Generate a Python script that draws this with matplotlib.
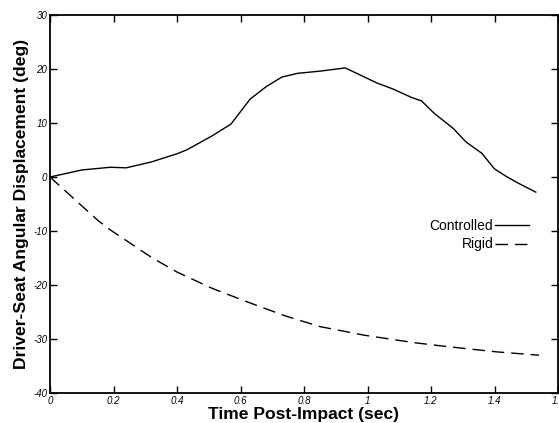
import matplotlib
matplotlib.use("Agg")
import matplotlib.pyplot as plt

# --- DATA ---
t_ctrl = [0.0, 0.10, 0.19, 0.24, 0.32, 0.40, 0.43, 0.51, 0.57, 0.63, 0.68, 0.73,
          0.78, 0.85, 0.93, 1.03, 1.08, 1.14, 1.17, 1.21, 1.27, 1.31, 1.36,
          1.40, 1.44, 1.48, 1.53]
ang_ctrl = [0.0, 1.3, 1.8, 1.7, 2.8, 4.3, 5.0, 7.6, 9.8, 14.4, 16.7, 18.5,
            19.2, 19.6, 20.2, 17.4, 16.3, 14.7, 14.1, 11.8, 9.0, 6.5, 4.4,
            1.5, 0.0, -1.3, -2.8]

t_rigid = [0.0, 0.15, 0.19, 0.32, 0.40, 0.51, 0.62, 0.74, 0.85, 0.99,
           1.15, 1.25, 1.41, 1.54]
ang_rigid = [0.0, -8.0, -9.8, -14.9, -17.6, -20.6, -23.1, -25.7, -27.7, -29.3,
             -30.7, -31.4, -32.4, -33.0]

xticks = [0, 0.2, 0.4, 0.6, 0.8, 1.0, 1.2, 1.4, 1.6]
xtick_labels = ["0", "0.2", "0.4", "0.6", "0.8", "1", "1.2", "1.4", "1.6"]
yticks = [-40, -30, -20, -10, 0, 10, 20, 30]

plt.rcParams['font.family'] = ['Liberation Sans', 'DejaVu Sans']

fig = plt.figure(figsize=(5.59, 4.23), dpi=100)
ax = fig.add_axes([50 / 559, 30 / 423, 508 / 559, 378 / 423])

ax.plot(t_ctrl, ang_ctrl, color='black', lw=1.0, label='Controlled')
ax.plot(t_rigid, ang_rigid, color='black', lw=1.0, dashes=(9, 5), label='Rigid')

ax.set_xlim(0, 1.6)
ax.set_ylim(-40, 30)
ax.set_xticks(xticks)
ax.set_xticklabels(xtick_labels, style='italic', fontsize=7)
ax.set_yticks(yticks)
ax.set_yticklabels([str(v) for v in yticks], style='italic', fontsize=7)
ax.tick_params(direction='in', length=5, width=1, top=True, right=True, pad=2)

for s in ax.spines.values():
    s.set_linewidth(1.3)

ax.set_xlabel("Time Post-Impact (sec)", fontsize=12.6, fontweight='bold', labelpad=1)
ax.set_ylabel("Driver-Seat Angular Displacement (deg)", fontsize=12.6,
              fontweight='bold', labelpad=3)

ax.legend(loc='center', bbox_to_anchor=(0.845, 0.417), frameon=False,
          markerfirst=False, fontsize=10, handlelength=2.4, handletextpad=0.15,
          labelspacing=0.3, alignment='right')

fig.savefig("out.png", dpi=100)
